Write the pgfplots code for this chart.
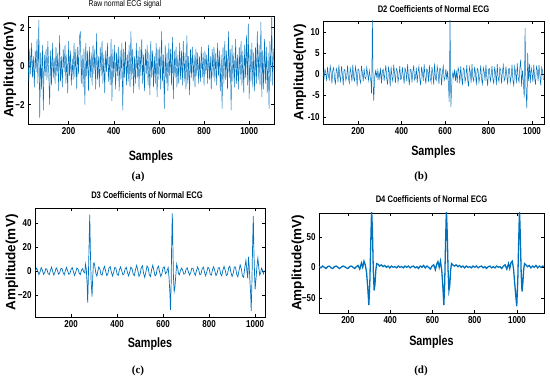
\documentclass[border=0pt]{standalone}
\usepackage{fontspec}
\setmainfont{Liberation Sans}
\newfontfamily\cf[FakeStretch=0.8]{Liberation Sans}
\newfontfamily\capf{Liberation Serif}
\usepackage{pgfplots}
\pgfplotsset{compat=1.18}
\definecolor{mblue}{RGB}{0,114,189}
\pgfplotsset{ecg/.style={
  scale only axis,
  axis line style={black, line width=0.6pt},
  tick align=inside, major tick length=3pt,
  tick style={black, line width=0.5pt},
  xtick={200,400,600,800,1000},
  tick label style={font=\cf\bfseries\fontsize{10}{10}\selectfont},
  /pgf/number format/assume math mode=true,
  /pgf/number format/set thousands separator={},
  xlabel={Samples}, ylabel={Amplitude(mV)},
  xlabel style={font=\cf\bfseries\fontsize{13.5}{14}\selectfont, at={(axis description cs:0.5,0)}, anchor=center},
  ylabel style={font=\bfseries\fontsize{13.5}{14}\selectfont, at={(axis description cs:0,0.5)}, anchor=center},
  title style={font=\cf\bfseries\fontsize{9.5}{10}\selectfont, at={(axis description cs:0.5,1)}, anchor=center},
  every axis plot/.append style={mblue},
}}
\begin{document}
\begin{tikzpicture}
\useasboundingbox (0pt,0pt) rectangle (550pt,380pt);
% ---------- (a)
\begin{axis}[ecg, at={(28pt,256pt)}, anchor=south west, width=246pt, height=108pt,
  xmin=20, xmax=1110, ymin=-3, ymax=2.6, ytick={-2,0,2}, yticklabels={−2,0,2},
  xlabel style={yshift=-33pt}, ylabel style={yshift=18pt},
  title={\fontsize{8.5}{9}\selectfont\mdseries Raw normal ECG signal}, title style={yshift=6pt, xshift=-26pt}]
\addplot[line width=0.45pt] coordinates {
(20,.3)(24,-.8)(28,.9)(32,-.4)(36,1.2)(40,-.6)(44,.5)(48,-1.1)(52,.8)(56,-.3)
(60,1.4)(64,-.9)(68,2.4)(72,-2.7)(76,.7)(80,-1.2)(84,1.1)(88,-2.3)(92,.6)(96,-.5)
(100,.9)(104,-.7)(108,1.3)(112,-.4)(116,-2.0)(120,.8)(124,-1.0)(128,1.2)(132,-.6)(136,.4)
(140,-.9)(144,1.0)(148,-.5)(152,.7)(156,-1.3)(160,1.6)(164,-.8)(168,.5)(172,-1.1)(176,.9)
(180,-.3)(184,1.1)(188,-.9)(192,.6)(196,-1.4)(200,1.3)(204,-.5)(208,.8)(212,-1.0)(216,.4)
(220,-.7)(224,1.2)(228,-.6)(232,.9)(236,-1.2)(240,1.0)(244,-.4)(248,1.5)(252,1.8)(256,-.9)
(260,.6)(264,-1.1)(268,.9)(272,-2.0)(276,1.2)(280,-.5)(284,.8)(288,-1.3)(292,1.0)(296,-.6)
(300,.7)(304,-1.0)(308,1.1)(312,-.4)(316,.9)(320,-1.2)(324,1.7)(328,-.7)(332,.5)(336,-1.1)
(340,1.0)(344,-.5)(348,1.3)(352,-.9)(356,.6)(360,-1.4)(364,.8)(368,-.3)(372,1.2)(376,-.8)
(380,.5)(384,-1.0)(388,1.4)(392,-1.8)(396,.9)(400,-.6)(404,1.1)(408,-1.2)(412,.7)(416,-.5)
(420,1.0)(424,-1.3)(428,.8)(432,-.7)(436,1.2)(440,-2.3)(444,.9)(448,-.6)(452,1.3)(456,-1.0)
(460,.6)(464,-.8)(468,1.1)(472,-1.1)(476,1.8)(480,-.7)(484,.9)(488,-1.4)(492,.5)(496,-.9)
(500,1.2)(504,-.6)(508,.8)(512,-1.2)(516,1.0)(520,-.5)(524,1.4)(528,-.9)(532,.6)(536,-1.3)
(540,.9)(544,-.4)(548,1.1)(552,-1.0)(556,.7)(560,-1.5)(564,1.3)(568,-.6)(572,.8)(576,-1.1)
(580,.5)(584,-.9)(588,1.2)(592,-1.6)(596,.9)(600,-.7)(604,1.0)(608,-1.2)(612,1.8)(616,-.8)
(620,.6)(624,-2.2)(628,1.1)(632,-.9)(636,.7)(640,-1.3)(644,1.2)(648,-.5)(652,.9)(656,-1.0)
(660,1.5)(664,-1.7)(668,.8)(672,-.6)(676,1.0)(680,-1.1)(684,.6)(688,-.9)(692,1.2)(696,-.7)
(700,.8)(704,-1.0)(708,1.3)(712,-.8)(716,.7)(720,-1.2)(724,1.6)(728,-.9)(732,.5)(736,-1.5)
(740,.9)(744,-.6)(748,1.0)(752,-.8)(756,.6)(760,-1.1)(764,.9)(768,-.5)(772,.7)(776,-.9)
(780,.5)(784,-.8)(788,1.0)(792,-.6)(796,.7)(800,-1.0)(804,.8)(808,-.4)(812,.6)(816,-.9)
(820,1.1)(824,-.7)(828,.5)(832,-1.2)(836,.9)(840,-.6)(844,1.0)(848,-.8)(852,.7)(856,-1.0)
(860,1.2)(864,-.5)(868,.8)(872,-1.3)(876,.6)(880,-2.2)(884,1.0)(888,-.9)(892,1.3)(896,-.7)
(900,.8)(904,-1.2)(908,1.8)(912,-.6)(916,.9)(920,-2.3)(924,1.1)(928,-.8)(932,.7)(936,-1.1)
(940,1.4)(944,-.9)(948,.6)(952,-1.2)(956,1.0)(960,-.7)(964,1.3)(968,-1.0)(972,.8)(976,-1.4)
(980,1.1)(984,-.6)(988,1.6)(992,-1.0)(996,2.2)(1000,-1.7)(1004,.9)(1008,-.8)(1012,1.2)(1016,-1.1)
(1020,.7)(1024,-1.3)(1028,1.0)(1032,-.9)(1036,1.8)(1040,-.7)(1044,1.1)(1048,-1.0)(1052,2.3)(1056,-1.6)
(1060,.8)(1064,-1.2)(1068,1.4)(1072,-.9)(1076,1.0)(1080,-1.4)(1084,.7)(1088,-2.2)(1092,1.3)(1096,-.8)
(1100,2.6)(1104,-1.0)(1108,.9)
};
\end{axis}
% ---------- (b)
\begin{axis}[ecg, at={(323pt,256pt)}, anchor=south west, width=221pt, height=103pt,
  xmin=39, xmax=1055, ymin=-11.7, ymax=12.6, ytick={-10,-5,0,5,10},
  xlabel style={yshift=-28pt}, ylabel style={yshift=23pt},
  title={D2 Coefficients of Normal ECG}, title style={yshift=6pt}]
\addplot[line width=0.5pt] coordinates {
(40,.5)(44,-.8)(48,1.2)(52,.3)(56,-1.5)(60,1.8)(64,-.4)(68,-1.2)(72,2.0)(76,.6)
(80,-2.2)(84,1.0)(88,1.6)(92,-1.0)(96,-2.4)(100,1.4)(104,.8)(108,-1.8)(112,2.3)(116,-.5)
(120,-1.6)(124,1.9)(128,.2)(132,-2.6)(136,1.2)(140,1.0)(144,-1.4)(148,-.6)(152,2.1)(156,-1.0)
(160,-2.0)(164,1.5)(168,.4)(172,-1.7)(176,2.3)(180,-.8)(184,-1.5)(188,1.8)(192,.5)(196,-2.8)
(200,1.3)(204,1.1)(208,-1.2)(212,-2.0)(216,2.0)(220,.3)(224,-1.6)(228,1.4)(232,-.8)(236,-1.1)
(240,1.7)(244,.2)(248,-1.4)(252,.9)(256,-.6)(260,-2.0)(262,-4.5)(264,2)(266,14)(268,3)
(270,-3)(272,-6.2)(274,-4)(276,-1)(280,.8)(284,-.5)
(288,1.0)(292,-1.3)(296,.6)(300,-.9)(304,1.6)(308,-2.1)(312,.8)(316,1.2)(320,-1.5)(324,.4)
(328,2.2)(332,-1.0)(336,-2.4)(340,1.6)(344,.5)(348,-2.8)(352,1.9)(356,-.6)(360,-1.6)(364,2.3)
(368,.3)(372,-2.0)(376,1.4)(380,1.0)(384,-1.8)(388,-.4)(392,2.0)(396,-1.2)(400,-.9)(404,1.7)
(408,-.3)(412,-2.2)(416,1.5)(420,.8)(424,-1.6)(428,2.4)(432,-.7)(436,-2.5)(440,1.2)(444,1.1)
(448,-1.9)(452,.5)(456,2.1)(460,-1.3)(464,-.8)(468,1.6)(472,-2.0)(476,.6)(480,1.9)(484,-1.1)
(488,-2.6)(492,1.8)(496,.4)(500,-1.5)(504,2.4)(508,-.5)(512,-2.2)(516,1.3)(520,.9)(524,-1.7)
(528,2.2)(532,-.8)(536,-1.9)(540,1.7)(544,.2)(548,-2.4)(552,2.6)(556,-1.0)(560,-1.4)(564,1.9)
(568,.5)(572,-2.3)(576,1.5)(580,1.2)(584,-2.6)(588,.6)(592,2.0)(596,-1.4)(600,-.7)(604,1.3)
(608,-1.2)(612,.8)(616,-2.5)(619,-6.5)(621,1)(623,14)(625,2)(627,-7.7)(629,-5)(632,-1)(636,.5)(640,-.8)
(644,1.2)(648,-1.5)(652,.9)(656,-2.0)(660,1.6)(664,.8)(668,-2.2)(672,1.9)(676,-.4)(680,-2.6)
(684,1.5)(688,1.3)(692,-1.8)(696,-.6)(700,2.2)(704,-1.3)(708,-2.8)(712,1.7)(716,.6)(720,-2.0)
(724,2.4)(728,-.9)(732,-1.6)(736,1.8)(740,.3)(744,-2.5)(748,1.4)(752,1.0)(756,-1.9)(760,-.5)
(764,2.1)(768,-1.1)(772,-2.3)(776,1.6)(780,.7)(784,-1.5)(788,2.3)(792,-.6)(796,-2.7)(800,1.2)
(804,1.4)(808,-1.8)(812,-.3)(816,2.0)(820,-1.2)(824,-2.1)(828,1.8)(832,.4)(836,-2.5)(840,2.5)
(844,-.8)(848,-1.7)(852,1.6)(856,1.0)(860,-2.2)(864,.8)(868,2.2)(872,-1.5)(876,-1.0)(880,1.9)
(884,-.2)(888,-2.4)(892,1.3)(896,1.4)(900,-1.9)(904,-.6)(908,2.3)(912,-1.4)(916,-2.6)(920,1.8)
(924,.6)(928,-2.1)(932,2.6)(936,-.7)(940,-1.8)(944,1.6)(948,3.5)(952,-2.9)(956,.9)
(960,-1.5)(964,-5.5)(966,.5)(968,11)(970,3)(972,-3)(976,-8)(978,-3)(980,5)(984,-1.5)(988,2.5)
(992,-2.0)(996,1.6)(1000,.4)(1004,-1.8)(1008,2.3)(1012,-.9)(1016,-2.4)(1020,1.8)(1024,1.0)(1028,-1.5)
(1032,2.2)(1036,-.3)(1040,-2.6)(1044,1.7)(1048,.9)(1052,-1.3)
};
\end{axis}
% ---------- (c)
\begin{axis}[ecg, at={(35pt,63pt)}, anchor=south west, width=230pt, height=109pt,
  xmin=43, xmax=1043, ymin=-38, ymax=52.5, ytick={-20,0,20,40}, yticklabels={−20,0,20,40},
  xlabel style={yshift=-27pt}, ylabel style={yshift=23pt},
  title={D3 Coefficients of Normal ECG}, title style={yshift=7pt, xshift=-3pt}]
\addplot[line width=0.7pt] coordinates {
(45,.5)(50,2.5)(55,.3)(60,-2.8)(65,-.5)(70,3.0)(75,1.0)(80,-2.5)(85,-1.2)(90,2.2)
(95,1.5)(100,-2.0)(105,-2.8)(110,.8)(115,3.4)(120,-.2)(125,-3.2)(130,-.6)(135,2.8)(140,1.2)
(145,-2.4)(150,-1.5)(155,2.0)(160,2.4)(165,-1.0)(170,-3.0)(175,.5)(180,3.2)(185,.2)(190,-2.6)
(195,-1.8)(200,1.6)(205,3.0)(210,-.4)(215,-3.5)(220,-.8)(225,2.6)(230,1.8)(235,-1.5)(240,-2.8)
(245,.8)(250,2.2)(255,-.6)(260,-1.5)
(262,6)(266,2)(270,-12)(272,-26)(275,-5)(278,20)(281,47)(284,15)(287,-8)(291,-21)(294,-5)(297,6)(300,7)(304,3)(308,-2)(312,-4)(316,0)
(320,3.5)(325,2.0)(330,-2.8)(335,-3.2)(340,1.5)(345,4.0)(350,.2)(355,-3.6)(360,-2.0)(365,2.8)
(370,3.8)(375,-.8)(380,-4.0)(385,-1.0)(390,3.2)(395,2.4)(400,-2.6)(405,-3.4)(410,1.2)(415,3.6)
(420,.5)(425,-3.0)(430,-2.2)(435,2.0)(440,3.2)(445,-1.2)(450,-3.8)(455,-.4)(460,3.4)(465,2.0)
(470,-2.4)(475,-3.6)(480,1.4)(485,4.8)(490,.8)(495,-4.2)(500,-2.4)(505,3.0)(510,4.6)(515,-1.6)
(520,-5.0)(525,-1.0)(530,4.4)(535,3.0)(540,-3.0)(545,-4.4)(550,1.2)(555,5.0)(560,.6)(565,-3.8)
(570,-2.6)(575,2.6)(580,4.2)(585,-.8)(590,-4.4)(595,-1.8)(600,3.0)(605,3.6)(610,-2.0)(615,-1.0)
(618,1)(622,3)(626,-6)(630,-20)(632,-32)(635,-10)(637,20)(640,48)(643,15)(645,-5)(648,-17)(651,-14)(655,-4)(659,6)(663,3)(667,-2)(671,-3)
(675,.5)(680,2.6)(685,1.0)(690,-2.4)(695,-2.0)(700,1.8)(705,2.8)(710,-.6)(715,-3.2)(720,-1.2)
(725,2.6)(730,2.4)(735,-1.4)(740,-3.4)(745,.4)(750,3.6)(755,1.0)(760,-3.0)(765,-2.2)(770,2.2)
(775,3.4)(780,-.8)(785,-3.8)(790,-.4)(795,3.2)(800,2.2)(805,-2.6)(810,-3.2)(815,1.6)(820,3.8)
(825,0)(830,-3.6)(835,-1.6)(840,3.0)(845,3.0)(850,-2.2)(855,-3.8)(860,1.0)(865,4.0)(870,.8)
(875,-3.6)(880,-2.6)(885,2.8)(890,4.2)(895,-1.0)(900,-4.4)(905,-1.6)(910,3.6)(915,3.4)(920,-2.8)
(925,-4.6)(930,.6)(935,5.2)(940,2.0)(945,-4.0)(950,-5.0)(955,2.8)(960,9.0)(965,-1.0)
(968,-6)(971,12)(974,5)(978,-10)(981,-20)(983,-33)(986,-10)(989,20)(992,46)(995,15)(998,-5)(1000,-15)(1004,-6)(1008,4)(1012,11)(1016,3)(1020,-3)
(1024,-1.5)(1028,2.5)(1032,1.0)(1036,-2.0)(1040,.5)
};
\end{axis}
% ---------- (d)
\begin{axis}[ecg, at={(319pt,67pt)}, anchor=south west, width=225pt, height=100pt,
  xmin=63, xmax=1128, ymin=-75, ymax=89, ytick={-50,0,50}, yticklabels={−50,0,50},
  xlabel style={yshift=-29pt}, ylabel style={yshift=21pt},
  title={D4 Coefficients of Normal ECG}, title style={yshift=8pt}]
\addplot[line width=1.3pt] coordinates {
(64,1)(72,-1)(80,2)(88,0)(96,-2)(104,1)(112,2)(120,-1)(128,-2)(136,1)
(144,2)(152,0)(160,-2)(168,0)(176,2)(184,1)(192,-1)(200,-2)(208,1)(216,2)
(224,0)(232,-2)(240,1)(248,3)(256,-3)(264,7)(270,0)(276,10)(282,4)(288,-8)
(294,-35)(299,-62)(304,-20)(308,40)(312,95)(316,60)(320,-5)(324,-38)(328,-28)(332,-5)
(336,6)(342,5)(350,2)(358,4)(366,1)(374,3)(382,0)(390,2)(398,-1)(406,2)
(414,0)(422,1)(430,-1)(438,2)(446,0)(454,1)(462,-1)(470,2)(478,0)(486,2)
(494,-1)(502,1)(510,2)(518,-1)(526,1)(534,-2)(542,2)(550,0)(558,3)(566,-1)
(574,2)(582,0)(590,-3)(598,2)(606,4)(614,-4)(620,5)(626,9)(632,0)(638,10)
(644,-5)(649,-30)(654,-62)(658,-25)(662,40)(666,95)(670,55)(674,-5)(678,-38)(682,-30)
(686,-5)(690,6)(696,4)(704,2)(712,4)(720,1)(728,3)(736,0)(744,2)(752,-1)
(760,2)(768,0)(776,1)(784,-1)(792,2)(800,0)(808,2)(816,-1)(824,1)(832,2)
(840,-1)(848,1)(856,-2)(864,1)(872,2)(880,-1)(888,1)(896,-1)(904,2)(912,0)
(920,1)(928,-2)(936,2)(944,4)(952,-3)(960,6)(966,-2)(972,8)(978,10)(984,-3)
(989,-25)(994,-45)(999,-64)(1004,-20)(1008,40)(1012,95)(1016,50)(1020,-10)(1024,-40)(1028,-25)
(1032,-3)(1036,6)(1042,4)(1050,1)(1058,3)(1066,-1)(1074,2)(1082,0)(1090,3)(1098,-1)
(1106,2)(1114,0)(1122,2)(1128,1)
};
\end{axis}
% captions
\node[font=\capf\bfseries\fontsize{11}{11}\selectfont] at (138pt,203pt) {(a)};
\node[font=\capf\bfseries\fontsize{11}{11}\selectfont] at (421pt,203pt) {(b)};
\node[font=\capf\bfseries\fontsize{11}{11}\selectfont] at (138pt,9pt) {(c)};
\node[font=\capf\bfseries\fontsize{11}{11}\selectfont] at (421pt,9pt) {(d)};
\end{tikzpicture}
\end{document}
